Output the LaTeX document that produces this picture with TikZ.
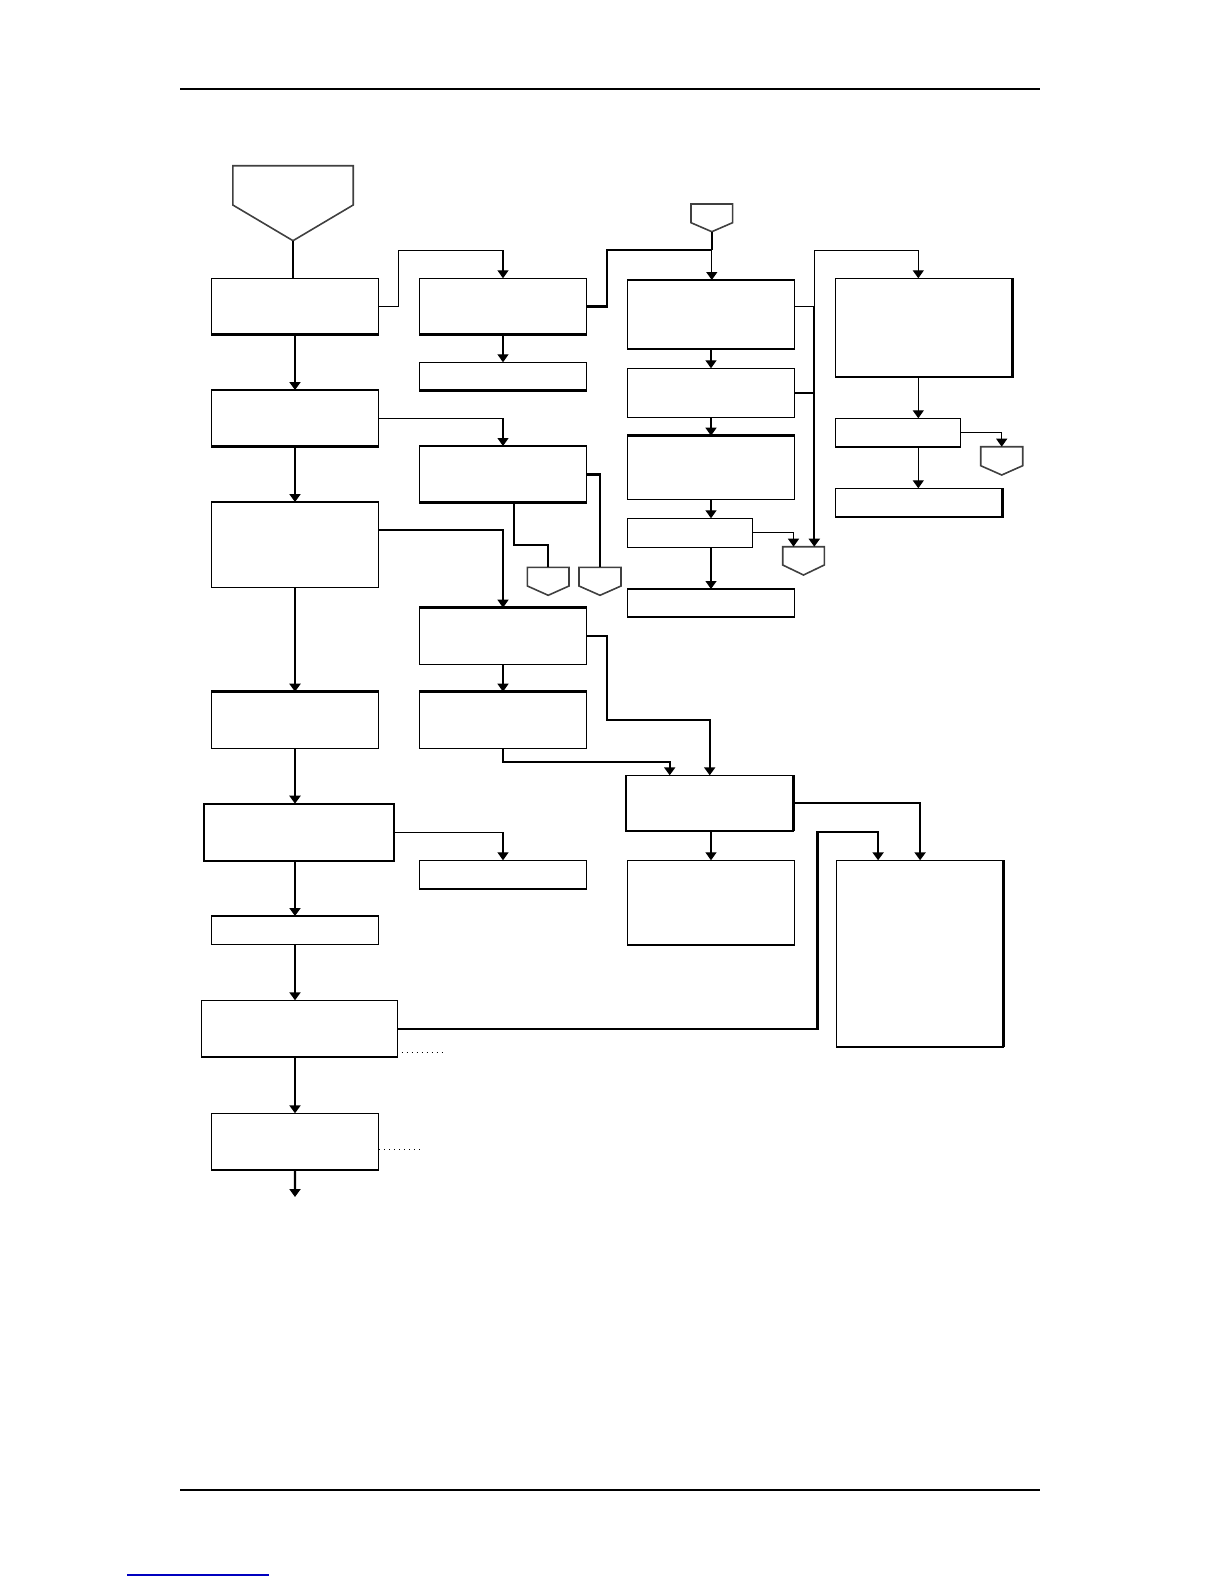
\documentclass[tikz,border=0pt]{standalone}
\usetikzlibrary{arrows.meta,fit,calc}
\tikzset{
  box/.style={draw, line width=0.65pt, inner sep=0pt, outer sep=0pt},
  conn/.style={line width=0.65pt},
  tconn/.style={line width=1.15pt},
  arr/.style={-{Triangle[width=5.5pt,length=4pt]}},
  edgeln/.style={line width=1.3pt},
  pentln/.style={line width=0.8pt, draw=black!75, line join=miter},
  dotln/.style={line width=0.55pt, dash pattern=on 0.6pt off 1.9pt},
  rule/.style={line width=1.2pt}
}
\newcommand\pentagonshape[6]{%
  \draw[pentln] (#2-#4,#3) -- (#2+#4,#3) -- (#2+#4,#3+#5) -- (#2,#3+#5+#6) -- (#2-#4,#3+#5) -- cycle;
  \coordinate (#1) at (#2,#3);
  \coordinate (#1-tip) at (#2,#3+#5+#6);}
\begin{document}
\begin{tikzpicture}[x=0.5pt,y=-0.5pt]
\useasboundingbox (0,0) rectangle (1224,1584);
% page rules
\draw[rule] (180,88.9) -- (1040,88.9);
\draw[rule] (180,1490) -- (1040,1490);
\draw[line width=0.6pt, draw=blue!75!black] (127,1575) -- (269,1575);

% pentagons
\pentagonshape{T}{293}{165.7}{60.2}{39.3}{35.7}
\pentagonshape{S1}{711.8}{204}{20.8}{18.7}{9}
\pentagonshape{P1}{548.2}{567.3}{20.8}{18.7}{9.3}
\pentagonshape{P2}{600}{567.3}{21}{18.7}{9.3}
\pentagonshape{P3}{803.5}{546.7}{20.8}{18.3}{10}
\pentagonshape{P4}{1001.7}{446.7}{21}{19}{9.3}

% boxes, column A
\node[box, fit={(211.3,278.3) (378.7,334.7)}] (A1) {};
\node[box, fit={(211.3,390) (378.7,446.7)}] (A2) {};
\node[box, fit={(211.3,502) (378.7,587.3)}] (A3) {};
\node[box, fit={(211.3,691.7) (378.7,748.3)}] (A4) {};
\node[box, line width=1.1pt, fit={(204,803.7) (394.3,861)}] (A5) {};
\node[box, fit={(211.3,916) (378.7,944.3)}] (A6) {};
\node[box, fit={(201.3,1000.3) (397.7,1057)}] (A7) {};
\node[box, fit={(211.3,1113.3) (378.7,1170)}] (A8) {};
% column B
\node[box, fit={(419.3,278.3) (586.7,334.7)}] (B1) {};
\node[box, fit={(419.3,362.3) (586.7,390.7)}] (B2) {};
\node[box, fit={(419.3,446) (586.7,502.7)}] (B3) {};
\node[box, fit={(419.3,607.7) (586.7,664.3)}] (B4) {};
\node[box, fit={(419.3,691.7) (586.7,748.3)}] (B5) {};
\node[box, fit={(419.3,860.3) (586.7,889)}] (B6) {};
% column C
\node[box, fit={(627.3,280) (794.7,349)}] (C1) {};
\node[box, fit={(627.3,368.3) (794.7,417.7)}] (C2) {};
\node[box, fit={(627.3,435.7) (794.7,499.3)}] (C3) {};
\node[box, fit={(627.3,518.3) (752.7,547.3)}] (C4) {};
\node[box, fit={(627.3,589) (794.7,617)}] (C5) {};
\node[box, fit={(626,775.3) (793.4,831)}] (C6) {};
\node[box, fit={(627.3,860.3) (794.7,945)}] (C7) {};
% column D
\node[box, fit={(835.3,278.3) (1012.3,377)}] (D1) {};
\node[box, fit={(835.3,418.3) (960.3,447)}] (D2) {};
\node[box, fit={(835.3,488.3) (1002.3,517)}] (D3) {};
\node[box, fit={(836.8,860.3) (1003.4,1047)}] (D4) {};

% heavier edges
\foreach \n in {A1,A2,A7,A8,B1,B2,B3,B6,C1,C7,D2}
  \draw[edgeln] (\n.south west) -- (\n.south east);
\foreach \n in {A4,B4,B5,C3}
  \draw[edgeln] (\n.north west) -- (\n.north east);
\foreach \n in {C6,D4}
  \draw[edgeln] (\n.north east) -- (\n.south east);
\draw[edgeln] (D1.south west) -- (D1.south east) -- (D1.north east);
\draw[edgeln] (D3.south west) -- (D3.south east) -- (D3.north east);

% column A connectors
\draw[conn] (T-tip) -- (T-tip |- A1.north);
\draw[tconn,arr] (A1.south) -- (A2.north);
\draw[tconn,arr] (A2.south) -- (A3.north);
\draw[tconn,arr] (A3.south) -- (A4.north);
\draw[tconn,arr] (A4.south) -- (A4.south |- A5.north);
\draw[tconn,arr] (A5.south -| A6.north) -- (A6.north);
\draw[tconn,arr] (A6.south) -- (A6.south |- A7.north);
\draw[tconn,arr] (A7.south -| A8.north) -- (A8.north);
\coordinate (E) at (295,1197);
\draw[tconn,arr] (A8.south) -- (E);
\draw[dotln] ($(A7.south east)+(4,-4.7)$) -- ++(41.6,0);
\draw[dotln] ($(A8.south east)+(0.5,-20.7)$) -- ++(40.3,0);

% A -> B
\draw[conn,arr] (A1.east) -- ++(19.6,0) |- ($(B1.north)+(0,-28)$) -- (B1.north);
\draw[conn,arr] (A2.east) -| (B3.north);
\draw[conn,arr] ($(A3.north east)+(0,28)$) -| (B4.north);
\draw[conn,arr] (A5.east) -| (B6.north);

% column B
\draw[conn,arr] (B1.south) -- (B2.north);
\coordinate (J1) at (S1-tip |- 0,250.3);
\draw[tconn] (B1.east) -- ++(20.3,0) |- (J1);
\draw[tconn] (B3.east) -| (P2);
\draw[tconn] ($(B3.south)+(11,0)$) -- ++(0,42.6) -| (P1);
\draw[conn,arr] (B4.south) -- (B5.north);
\draw[tconn,arr] (B4.east) -- ++(20.5,0) -- ++(0,84) -| (C6.north);
\draw[tconn,arr] (B5.south) -- ++(0,13.4) -| ($(C6.north)+(-40,0)$);

% column C
\draw[tconn] (S1-tip) -- (J1);
\draw[conn,arr] (J1) -- (J1 |- C1.north);
\draw[conn,arr] (C1.south) -- (C2.north);
\draw[conn,arr] (C2.south) -- (C3.north);
\draw[conn,arr] (C3.south) -- (C3.south |- C4.north);
\draw[conn,arr] (C4.south -| C5.north) -- (C5.north);
\coordinate (K) at ($(C1.north east)+(19.6,26.3)$);
\draw[conn,arr] ($(C1.north east)+(0,26.3)$) -- (K) |- ($(D1.north)+(-5.5,-28)$) -- ($(D1.north)+(-5.5,0)$);
\draw[tconn,arr] (K) -- (K |- P3);
\draw[conn] (C2.east) -- (C2.east -| K);
\draw[conn,arr] (C4.east) -| ($(P3)+(-10,0)$);
\draw[tconn,arr] (C6.east) -| (D4.north);
\draw[conn,arr] (C6.south -| C7.north) -- (C7.north);
\draw[tconn,arr] (A7.east) -| (817.6,832.3) -| ($(D4.north)+(-42,0)$);

% column D
\coordinate (dx) at ($(D1.south)+(-5.5,0)$);
\draw[conn,arr] (dx) -- (dx |- D2.north);
\draw[conn,arr] (D2.east) -| (P4);
\draw[conn,arr] (dx |- D2.south) -- (dx |- D3.north);
\end{tikzpicture}
\end{document}
